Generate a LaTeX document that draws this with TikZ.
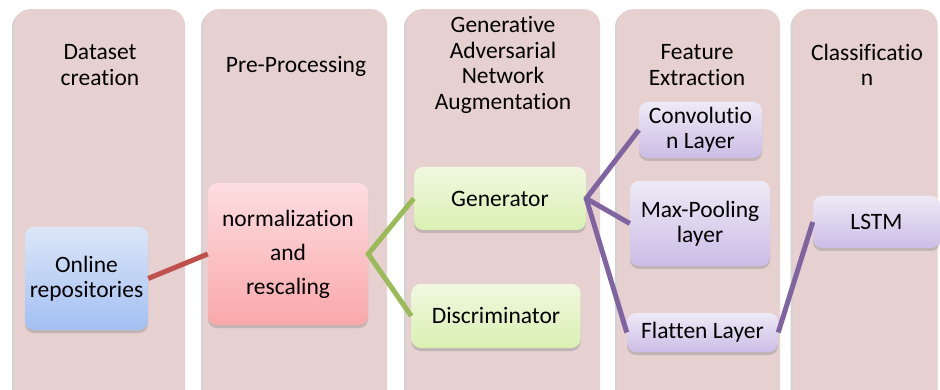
\documentclass[tikz,border=0pt]{standalone}
\usepackage{fontspec}
\setmainfont{Carlito}[Ligatures={NoCommon}]
\usetikzlibrary{shadows}
\definecolor{colfill}{HTML}{E6D0D0}
\definecolor{redline}{HTML}{C0504D}
\definecolor{greenline}{HTML}{9BBB59}
\definecolor{purpleline}{HTML}{8064A2}
\definecolor{bluetop}{HTML}{DCE6F8}
\definecolor{bluebot}{HTML}{A3C0F2}
\definecolor{redtop}{HTML}{FDDDE0}
\definecolor{redbot}{HTML}{FAA8AB}
\definecolor{greentop}{HTML}{F0F8E0}
\definecolor{greenbot}{HTML}{DAF0B2}
\definecolor{purptop}{HTML}{EEEAF6}
\definecolor{purpbot}{HTML}{CBBDE6}
\tikzset{
  col/.style={fill=colfill, rounded corners=16pt, minimum width=#1, minimum height=400pt,
     drop shadow={shadow xshift=-2pt, shadow yshift=-2pt, opacity=0.35, fill=gray}},
  title/.style={align=center, font=\fontsize{23.5}{25.5}\selectfont},
  box/.style={rounded corners=9pt, align=center, font=\fontsize{23.5}{25}\selectfont,
     drop shadow={shadow xshift=0pt, shadow yshift=-3pt, opacity=0.35, fill=gray}},
  bluebox/.style={box, top color=bluetop, bottom color=bluebot},
  redbox/.style={box, top color=redtop, bottom color=redbot},
  greenbox/.style={box, top color=greentop, bottom color=greenbot},
  purplebox/.style={box, top color=purptop, bottom color=purpbot},
  conn/.style={line width=5pt},
}
\begin{document}
\begin{tikzpicture}[x=1pt,y=-1pt]
\path[use as bounding box] (0,0) rectangle (940,390);
\clip (0,0) rectangle (940,390);
\fill[white] (0,0) rectangle (940,390);
% columns
\node[col=171pt, anchor=north] (c1) at (99.5,9) {};
\node[col=184pt, anchor=north] (c2) at (295,9) {};
\node[col=194pt, anchor=north] (c3) at (503,9) {};
\node[col=163pt, anchor=north] (c4) at (698.5,9) {};
\node[col=145pt, anchor=north] (c5) at (865,9) {};
% titles
\node[title] (t1) at (100,65) {Dataset\\creation};
\node[title] (t2) at (296,66) {Pre-Processing};
\node[title] (t3) at (503,65) {Generative\\Adversarial\\Network\\Augmentation};
\node[title] (t4) at (697,65) {Feature\\Extraction};
\node[title] (t5) at (867,65) {Classificatio\\n};
% boxes
\node[bluebox, minimum width=123pt, minimum height=103pt] (online) at (86.5,278.5) {Online\\repositories};
\node[redbox, minimum width=160pt, minimum height=142pt, font=\fontsize{23.5}{34}\selectfont] (norm) at (288,254) {normalization\\and\\rescaling};
\node[greenbox, minimum width=172pt, minimum height=63pt] (gen) at (500,198.5) {Generator};
\node[greenbox, minimum width=169pt, minimum height=64pt] (disc) at (496,316) {Discriminator};
\node[purplebox, minimum width=123pt, minimum height=56pt] (conv) at (700.5,130) {Convolutio\\n Layer};
\node[purplebox, minimum width=140pt, minimum height=85pt] (pool) at (700,223.5) {Max-Pooling\\layer};
\node[purplebox, minimum width=151pt, minimum height=39pt] (flat) at (702.5,332.5) {Flatten Layer};
\node[purplebox, minimum width=127pt, minimum height=52pt] (lstm) at (876.5,222) {LSTM};
% connectors
\draw[conn, redline] (online.east) -- (norm.west);
\draw[conn, greenline] (gen.west) -- (norm.east) -- (disc.west);
\draw[conn, purpleline] (conv.west) -- (gen.east) -- (flat.west);
\draw[conn, purpleline] (gen.east) -- (pool.west);
\draw[conn, purpleline] (flat.east) -- (lstm.west);
\end{tikzpicture}
\end{document}
